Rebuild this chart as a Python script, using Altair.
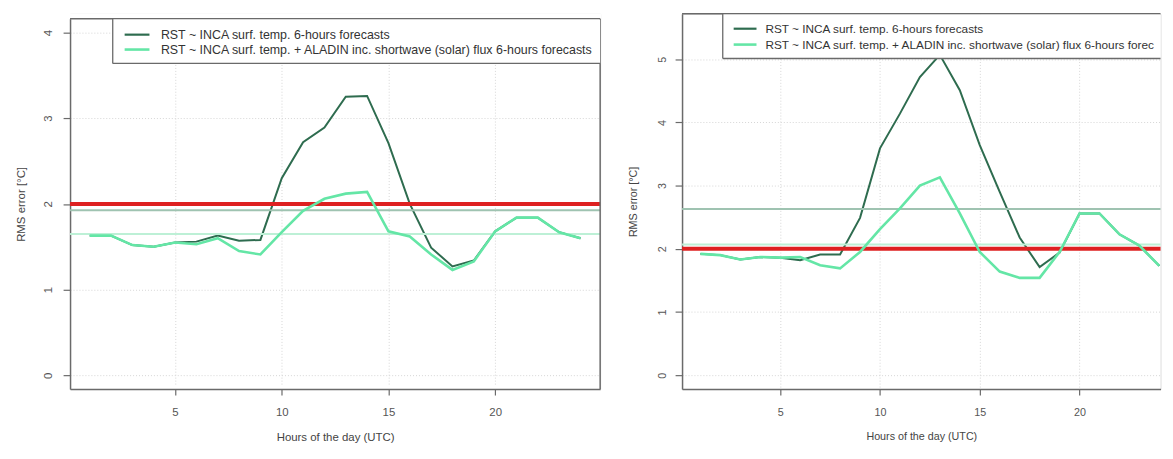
import altair as alt
import pandas as pd

# ---------------- data ----------------
hours = list(range(1, 25))

left_inca = [1.63, 1.63, 1.52, 1.50, 1.55, 1.56, 1.63, 1.57, 1.58, 2.30, 2.72, 2.89,
             3.25, 3.26, 2.71, 2.00, 1.49, 1.27, 1.34, 1.68, 1.84, 1.84, 1.67, 1.60]
left_inca_aladin = [1.63, 1.63, 1.52, 1.50, 1.55, 1.53, 1.60, 1.45, 1.41, 1.67, 1.92, 2.06,
                    2.12, 2.14, 1.68, 1.62, 1.41, 1.23, 1.33, 1.68, 1.84, 1.84, 1.67, 1.60]

right_inca = [1.92, 1.90, 1.83, 1.87, 1.86, 1.82, 1.91, 1.91, 2.49, 3.59, 4.14, 4.72,
              5.07, 4.51, 3.64, 2.90, 2.18, 1.71, 1.94, 2.56, 2.56, 2.23, 2.05, 1.73]
right_inca_aladin = [1.92, 1.90, 1.83, 1.87, 1.86, 1.87, 1.74, 1.69, 1.95, 2.31, 2.64, 3.00,
                     3.13, 2.56, 1.95, 1.64, 1.54, 1.54, 1.95, 2.56, 2.56, 2.23, 2.05, 1.73]

left_means = [1.925, 1.65]     # mean RMS of the two series (left panel)
right_means = [2.63, 2.07]     # mean RMS of the two series (right panel)
threshold = [2.0]

x_ticks = [5, 10, 15, 20]
left_y_ticks = [0, 1, 2, 3, 4]
right_y_ticks = [0, 1, 2, 3, 4, 5]

series_labels = [
    "RST ~ INCA surf. temp. 6-hours forecasts",
    "RST ~ INCA surf. temp. + ALADIN inc. shortwave (solar) flux 6-hours forecasts",
]
x_title = "Hours of the day (UTC)"
y_title = "RMS error [°C]"

# ---------------- styles ----------------
DARK = "#2e6c4f"
LIGHT = "#64e6a6"
DARK_MEAN = "#9fc3b1"
LIGHT_MEAN = "#bdf0d6"
RED = "#de2121"
FRAME = "#6a6a6a"
GRID = "#d6d6d6"
LABEL = "#555555"
TITLE = "#444444"
FONT = "Liberation Sans"

H = 378  # common panel height (pixels)

one = pd.DataFrame({"k": [0]})


def panel(inca, aladin, means, y_ticks, y_dom, x_dom, w, top, fs, lfs, lg, right_edge,
          ylab_pad, ytitle_pad):
    h = H
    df = pd.DataFrame({"hour": hours, "inca": inca, "aladin": aladin})
    mdf = pd.DataFrame({"mean": means})
    tdf = pd.DataFrame({"thr": threshold})

    xs = alt.Scale(domain=x_dom, nice=False, zero=False)
    ys = alt.Scale(domain=y_dom, nice=False, zero=False, range=[h, top])

    x_axis = alt.Axis(
        values=x_ticks, title=x_title, grid=True, gridDash=[1, 2], gridColor=GRID,
        gridWidth=1, domainColor=FRAME, domainWidth=1.5, tickColor=FRAME,
        tickSize=6, tickWidth=1.2, labelFont=FONT, labelFontSize=fs,
        labelColor=LABEL, labelPadding=12, titleFont=FONT, titleFontSize=fs,
        titleFontWeight="normal", titleColor=TITLE, titlePadding=13,
    )
    y_axis = alt.Axis(
        values=y_ticks, title=y_title, grid=True, gridDash=[1, 2], gridColor=GRID,
        gridWidth=1, domainColor=FRAME, domainWidth=1.5, tickColor=FRAME,
        tickSize=7, tickWidth=1.2, labelAngle=270, labelFont=FONT,
        labelFontSize=fs, labelColor=LABEL, labelPadding=ylab_pad, titleFont=FONT,
        titleFontSize=fs, titleFontWeight="normal", titleColor=TITLE,
        titlePadding=ytitle_pad,
    )

    def X(f):
        return alt.X(f, scale=xs, axis=x_axis)

    def Y(f):
        return alt.Y(f, scale=ys, axis=y_axis)

    dark_line = alt.Chart(df).mark_line(color=DARK, strokeWidth=2).encode(
        x=X("hour:Q"), y=Y("inca:Q"))
    light_line = alt.Chart(df).mark_line(color=LIGHT, strokeWidth=2.6).encode(
        x=X("hour:Q"), y=Y("aladin:Q"))
    mean_dark = alt.Chart(mdf.iloc[[0]]).mark_rule(color=DARK_MEAN, strokeWidth=2).encode(
        y=Y("mean:Q"))
    mean_light = alt.Chart(mdf.iloc[[1]]).mark_rule(color=LIGHT_MEAN, strokeWidth=2).encode(
        y=Y("mean:Q"))
    red = alt.Chart(tdf).mark_rule(color=RED, strokeWidth=4).encode(y=Y("thr:Q"))

    layers = [dark_line, mean_dark, mean_light, red, light_line]

    # white strip above a lowered frame (hides grid stubs)
    if top > 0:
        layers.append(alt.Chart(one).mark_rect(fill="white").encode(
            x=alt.value(-1), x2=alt.value(w + 1), y=alt.value(0), y2=alt.value(top)))

    # frame (top, optionally right)
    layers.append(alt.Chart(one).mark_rule(color=FRAME, strokeWidth=1.5).encode(
        x=alt.value(0), x2=alt.value(w), y=alt.value(top)))
    if right_edge:
        layers.append(alt.Chart(one).mark_rule(color=FRAME, strokeWidth=1.5).encode(
            x=alt.value(w), y=alt.value(top), y2=alt.value(h)))

    # legend box
    bx, sx0, sx1, tx, ly1, ly2, bh = lg
    layers.append(alt.Chart(one).mark_rect(fill="white").encode(
        x=alt.value(bx), x2=alt.value(w), y=alt.value(top + 0.8), y2=alt.value(top + bh)))
    layers.append(alt.Chart(one).mark_rule(color=FRAME, strokeWidth=1.3).encode(
        x=alt.value(bx), y=alt.value(top), y2=alt.value(top + bh)))
    layers.append(alt.Chart(one).mark_rule(color=FRAME, strokeWidth=1.3).encode(
        x=alt.value(bx), x2=alt.value(w), y=alt.value(top + bh)))
    layers.append(alt.Chart(one).mark_rule(color=DARK, strokeWidth=2.2).encode(
        x=alt.value(sx0), x2=alt.value(sx1), y=alt.value(top + ly1)))
    layers.append(alt.Chart(one).mark_rule(color=LIGHT, strokeWidth=2.6).encode(
        x=alt.value(sx0), x2=alt.value(sx1), y=alt.value(top + ly2)))
    for lbl, ly in zip(series_labels, [ly1, ly2]):
        layers.append(alt.Chart(one).mark_text(
            align="left", baseline="middle", font=FONT, fontSize=lfs, color="#333333",
            limit=w - tx, ellipsis="\u200b").encode(
                x=alt.value(tx), y=alt.value(top + ly), text=alt.value(lbl)))

    return alt.layer(*layers).properties(width=w, height=h)


left = panel(left_inca, left_inca_aladin, left_means, left_y_ticks, [-0.16, 4.16],
             [0.08, 24.92], 534, 5, 11.5, 12.5,
             (43, 55, 80, 91.5, 16, 31, 45), True, 10, 16)
right = panel(right_inca, right_inca_aladin, right_means, right_y_ticks, [-0.22, 5.72],
              [0.08, 24.06], 482, 0, 10.8, 11.9,
              (41, 52, 75, 84, 15, 31, 45), False, 8, 18)

chart = alt.hconcat(left, right, spacing=23.5).properties(
    padding={"left": 6.5, "top": 2.25, "right": 0, "bottom": 0}
).configure_view(stroke=None).configure(background="white")

chart.save("out.html", embed_options={"renderer": "svg", "actions": False})
